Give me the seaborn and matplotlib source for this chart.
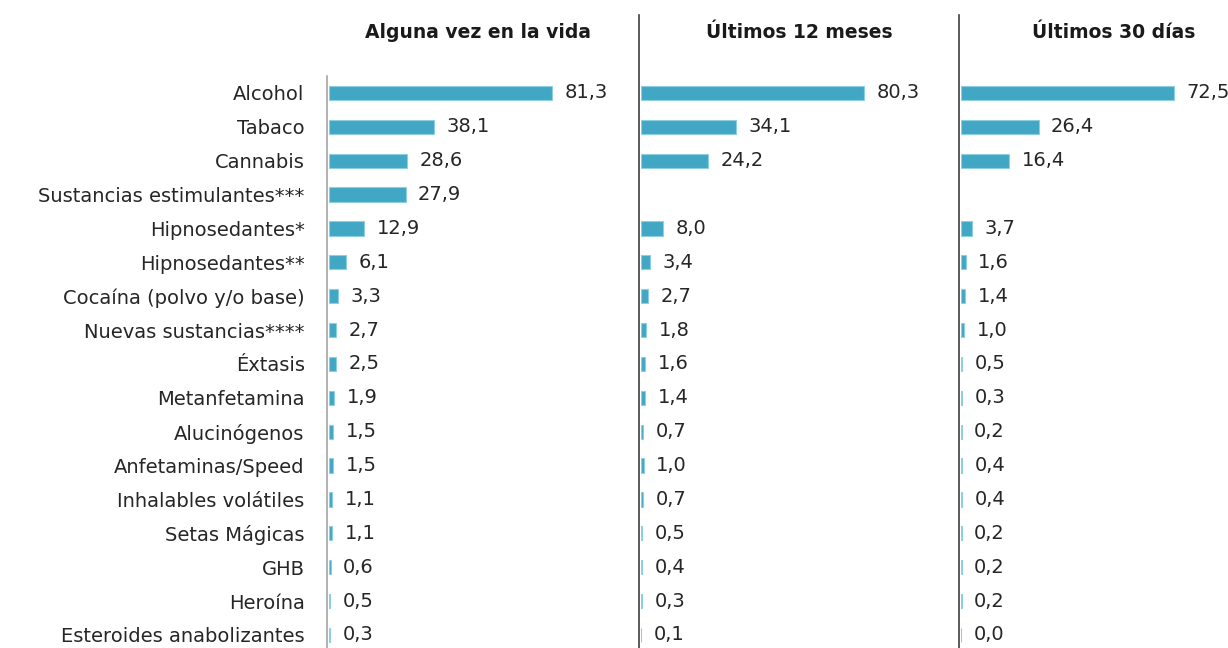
import matplotlib
matplotlib.use("Agg")
import matplotlib.pyplot as plt
import seaborn as sns
import numpy as np
import pandas as pd

categories = ["Alcohol", "Tabaco", "Cannabis", "Sustancias estimulantes***",
              "Hipnosedantes*", "Hipnosedantes**", "Cocaína (polvo y/o base)",
              "Nuevas sustancias****", "Éxtasis", "Metanfetamina", "Alucinógenos",
              "Anfetaminas/Speed", "Inhalables volátiles", "Setas Mágicas", "GHB",
              "Heroína", "Esteroides anabolizantes"]
vida = [81.3, 38.1, 28.6, 27.9, 12.9, 6.1, 3.3, 2.7, 2.5, 1.9, 1.5, 1.5, 1.1, 1.1, 0.6, 0.5, 0.3]
meses12 = [80.3, 34.1, 24.2, np.nan, 8.0, 3.4, 2.7, 1.8, 1.6, 1.4, 0.7, 1.0, 0.7, 0.5, 0.4, 0.3, 0.1]
dias30 = [72.5, 26.4, 16.4, np.nan, 3.7, 1.6, 1.4, 1.0, 0.5, 0.3, 0.2, 0.4, 0.4, 0.2, 0.2, 0.2, 0.0]
titles = ["Alguna vez en la vida", "Últimos 12 meses", "Últimos 30 días"]

sns.set_style("white")
plt.rcParams['font.family'] = ['DejaVu Sans']

W, H = 1228, 648
fig = plt.figure(figsize=(W / 100, H / 100), dpi=100)

color = "#41A7C4"
edge = "#8ccfe0"
row = 33.875
# (left px, right px, top px, px per unit, spine color)
panels = [(329, 620, 76, 2.743, "#a6a6a6"), (641, 945, 15, 2.777, "#404040"), (961, 1228, 15, 2.94, "#404040")]
series = [vida, meses12, dias30]
title_x = [478, 799, 1114]

for i, ((l, r, t, ppu, sc), vals) in enumerate(zip(panels, series)):
    ax = fig.add_axes([l / W, 0, (r - l) / W, (H - t) / H])
    df = pd.DataFrame({"cat": categories, "val": vals})
    sns.barplot(data=df, y="cat", x="val", orient="h", color=color, ax=ax,
                width=0.42, saturation=1, order=categories,
                edgecolor=edge, linewidth=0.8)
    ax.set_xlim(0, (r - l) / ppu)
    top = -0.5 - (76 - t) / row
    ax.set_ylim(-0.5 + (H - 76) / row, top)
    for sp in ["top", "right", "bottom"]:
        ax.spines[sp].set_visible(False)
    ax.spines["left"].set_color(sc)
    ax.spines["left"].set_linewidth(1.2)
    ax.spines["left"].set_position(("outward", 1.5))
    ax.set_xticks([])
    ax.set_xlabel("")
    ax.set_ylabel("")
    if i == 0:
        ax.tick_params(axis="y", length=0, pad=16, labelsize=14, labelcolor="#262626")
    else:
        ax.set_yticks([])
    for j, v in enumerate(vals):
        if np.isnan(v):
            continue
        ax.annotate(f"{v:.1f}".replace(".", ","), xy=(v, j), xytext=(9, 0),
                    textcoords="offset points", va="center", ha="left",
                    fontsize=14, color="#262626", annotation_clip=False)
    fig.text(title_x[i] / W, 1 - 33 / H, titles[i], ha="center", va="center",
             fontsize=13.5, fontweight="bold", color="#1a1a1a")

fig.savefig("out.png", dpi=100)
